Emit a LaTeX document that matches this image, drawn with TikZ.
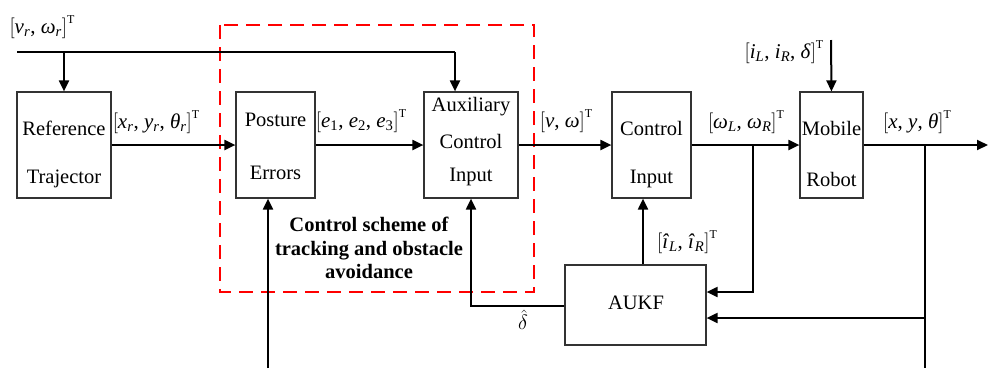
\documentclass[tikz,border=0pt]{standalone}
\usepackage{fontspec}
\setmainfont{Liberation Serif}
\usetikzlibrary{arrows.meta,calc}
\newcommand{\vvec}[1]{$\big[$#1$\big]$\raisebox{10pt}{\fontsize{12}{12}\selectfont T}}
\newcommand{\iv}[1]{\textit{#1}}
\newcommand{\sbb}[1]{\textsubscript{\textit{#1}}}
\tikzset{
  blk/.style={draw=black!80,line width=1.2pt,minimum height=106pt,inner sep=0pt},
  txt/.style={font=\rmfamily\fontsize{20.5}{24}\selectfont,inner sep=0pt},
  lbl/.style={font=\rmfamily\fontsize{21}{24}\selectfont,inner sep=0pt},
  arr/.style={line width=2pt,-{Triangle[length=11pt,width=10pt]}},
  ln/.style={line width=2pt},
  reddash/.style={draw=red,line width=2.6pt,dash pattern=on 14pt off 8pt}
}
\begin{document}
\begin{tikzpicture}[x=1pt,y=-1pt]
\useasboundingbox (0,0) rectangle (991,368);
% boxes
\node[blk,minimum width=94pt] (ref) at (64,145) {};
\node[blk,minimum width=79pt] (pe) at (275.5,145) {};
\node[blk,minimum width=94pt] (aux) at (471,145) {};
\node[blk,minimum width=79pt] (ci) at (651.5,145) {};
\node[blk,minimum width=63pt] (mr) at (831.5,145) {};
\node[blk,minimum width=141pt,minimum height=80pt] (aukf) at (635.5,305) {};
% box texts
\node[txt] (t1) at (64,128) {Reference};
\node[txt] (t2) at (64,179) {Trajector};
\node[txt] (t3) at (275.5,120) {Posture};
\node[txt] (t4) at (275.5,173) {Errors};
\node[txt] (t5) at (471,107) {Auxiliary};
\node[txt] (t6) at (471,141) {Control};
\node[txt] (t7) at (471,177) {Input};
\node[txt] (t8) at (651.5,128) {Control};
\node[txt] (t9) at (651.5,179) {Input};
\node[txt] (t10) at (831.5,128) {Mobile};
\node[txt] (t11) at (831.5,179) {Robot};
\node[txt] (t12) at (636,303) {AUKF};
% red dashed region
\draw[reddash] (220,25) rectangle (534,292);
\node[font=\rmfamily\fontsize{20.5}{23.5}\selectfont\bfseries,align=center,inner sep=0pt] (cs) at (369,248)
  {Control scheme of\\tracking and obstacle\\avoidance};
% coordinates
\coordinate (tl) at (17,52);
\coordinate (tr) at (455,52);
\coordinate (j1) at (753,145);
\coordinate (j2) at (925,145);
\coordinate (outp) at (988,145);
\coordinate (mrin) at (831,40);
\coordinate (pein) at (268,368);
\coordinate (bot2) at (925,368);
% connectors
\draw[ln] (tl) -- (tr);
\draw[arr] (tr) -- (tr |- aux.north);
\draw[arr] (ref.north |- tl) -- (ref.north);
\draw[arr] (ref.east) -- (pe.west);
\draw[arr] (pe.east) -- (aux.west);
\draw[arr] (aux.east) -- (ci.west);
\draw[arr] (ci.east) -- (mr.west);
\draw[arr] (mr.east) -- (outp);
\draw[arr] (mrin) -- (mr.north);
\draw[arr] (j1) |- ($(aukf.east)+(0,-13)$);
\draw[ln] (j2) -- (bot2);
\draw[arr] (j2 |- {$(aukf.east)+(0,13)$}) -- ($(aukf.east)+(0,13)$);
\draw[arr] ($(aukf.north)+(7.5,0)$) -- ($(ci.south)+(-8.5,0)$);
\draw[arr] ($(aukf.west)+(0,1)$) -| (aux.south);
\draw[arr] (pein) -- (pein |- pe.south);
% labels
\node[lbl] (l1) at (42,27) {\vvec{\iv{v}\sbb{r}, \iv{ω}\sbb{r}}};
\node[lbl] (l2) at (156,122) {\vvec{\iv{x}\sbb{r}, \iv{y}\sbb{r}, \iv{θ}\sbb{r}}};
\node[lbl] (l3) at (361,121) {\vvec{\iv{e}\textsubscript{1}, \iv{e}\textsubscript{2}, \iv{e}\textsubscript{3}}};
\node[lbl] (l4) at (566,121) {\vvec{\iv{v}, \iv{ω}}};
\node[lbl] (l5) at (746,122) {\vvec{\iv{ω}\sbb{L}, \iv{ω}\sbb{R}}};
\node[lbl] (l6) at (917,122) {\vvec{\iv{x}, \iv{y}, \iv{θ}}};
\node[lbl] (l7) at (784,52) {\vvec{\iv{i}\sbb{L}, \iv{i}\sbb{R}, \iv{δ}}};
\node[lbl] (l8) at (687,242) {\vvec{\iv{î}\sbb{L}, \iv{î}\sbb{R}}};
\node[lbl] (l9) at (523,320) {$\hat{\delta}$};
\end{tikzpicture}
\end{document}
